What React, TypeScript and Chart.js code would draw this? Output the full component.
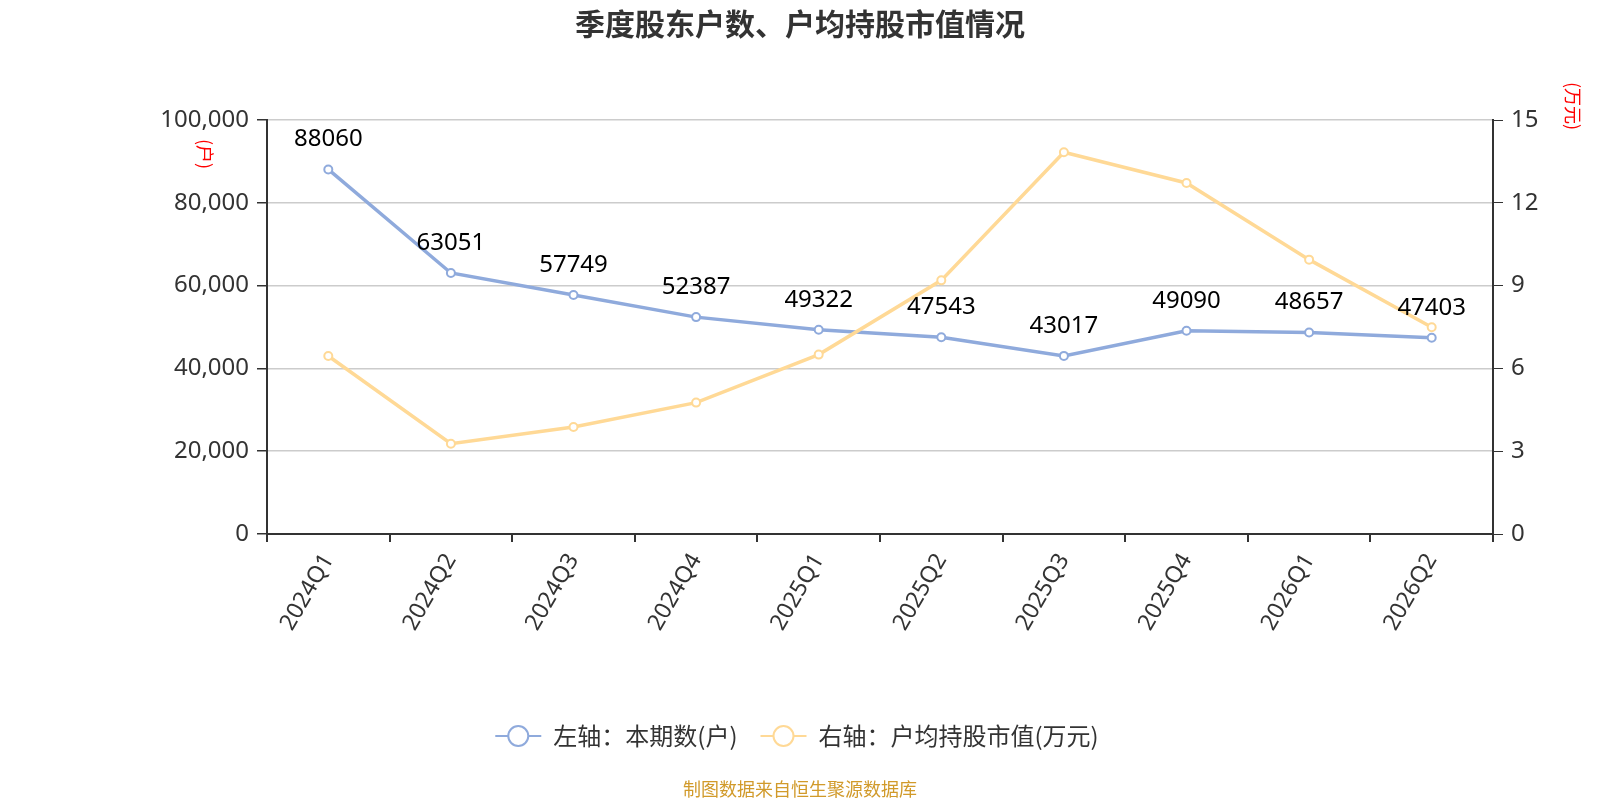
import { useEffect, useRef } from "react"
import { Chart, registerables } from "chart.js"

Chart.register(...registerables)

const FONT = '"Noto Sans CJK SC", "Noto Sans", sans-serif'
const NUM_FONT = '"Noto Sans", "Noto Sans CJK SC", sans-serif'

// quarters on the x axis
const quarters = ["2024Q1", "2024Q2", "2024Q3", "2024Q4", "2025Q1", "2025Q2", "2025Q3", "2025Q4", "2026Q1", "2026Q2"]
// left axis: number of holders (户)
const holders = [88060, 63051, 57749, 52387, 49322, 47543, 43017, 49090, 48657, 47403]
// right axis: average market value per holder (万元)
const avgValue = [6.45, 3.27, 3.88, 4.76, 6.5, 9.19, 13.83, 12.72, 9.94, 7.49]

const leftMax = 100000
const leftStep = 20000
const rightMax = 15
const rightStep = 3

const blue = "#8FAADC"
const yellow = "#FFD996"

const titleText = "季度股东户数、户均持股市值情况"
const leftUnit = "(户)"
const rightUnit = "(万元)"
const legendLabels = ["左轴：本期数(户)", "右轴：户均持股市值(万元)"]
const sourceText = "制图数据来自恒生聚源数据库"

// extra text: title, unit labels, value labels, legend, source
const decorPlugin = {
  id: "decor",
  afterDatasetsDraw(chart: Chart) {
    const ctx = chart.ctx
    ctx.save()

    // value labels above the blue line
    const meta = chart.getDatasetMeta(1)
    ctx.font = `24px ${NUM_FONT}`
    ctx.fillStyle = "#000"
    ctx.textAlign = "center"
    ctx.textBaseline = "middle"
    meta.data.forEach((pt, i) => {
      ctx.fillText(String(holders[i]), pt.x, pt.y - 30)
    })

    // title
    ctx.font = `bold 30px ${FONT}`
    ctx.fillStyle = "#333"
    ctx.fillText(titleText, 800, 24)

    // unit labels, rotated
    ctx.font = `18px ${FONT}`
    ctx.fillStyle = "#f00"
    const drawRot = (t: string, x: number, y: number) => {
      ctx.save()
      ctx.translate(x, y)
      ctx.rotate(Math.PI / 2)
      ctx.fillText(t, 0, 0)
      ctx.restore()
    }
    drawRot(leftUnit, 205, 154)
    drawRot(rightUnit, 1573, 106)

    // legend
    ctx.font = `24px ${FONT}`
    const colors = [blue, yellow]
    const widths = legendLabels.map((l) => ctx.measureText(l).width)
    const gap = 23
    const itemW = widths.map((w) => 46 + 12 + w)
    const total = itemW[0] + itemW[1] + gap
    let x = 797 - total / 2
    const ly = 736
    ctx.textAlign = "left"
    legendLabels.forEach((l, i) => {
      const cx = x + 23
      ctx.strokeStyle = colors[i]
      ctx.lineWidth = 2
      ctx.beginPath()
      ctx.moveTo(x, ly)
      ctx.lineTo(x + 46, ly)
      ctx.stroke()
      ctx.beginPath()
      ctx.arc(cx, ly, 10, 0, Math.PI * 2)
      ctx.fillStyle = "#fff"
      ctx.fill()
      ctx.stroke()
      ctx.fillStyle = "#333"
      ctx.fillText(l, x + 58, ly)
      x += itemW[i] + gap
    })

    // source
    ctx.font = `18px ${FONT}`
    ctx.fillStyle = "#D19A2A"
    ctx.textAlign = "center"
    ctx.fillText(sourceText, 800, 789)

    ctx.restore()
  },
}

export default function App() {
  const chartRef = useRef<HTMLCanvasElement>(null)
  const chartInstance = useRef<Chart | null>(null)

  useEffect(() => {
    if (!chartRef.current) return
    if (chartInstance.current) chartInstance.current.destroy()

    const ctx = chartRef.current.getContext("2d")
    if (!ctx) return

    const tickFont = { family: NUM_FONT, size: 24 }

    chartInstance.current = new Chart(ctx, {
      type: "line",
      data: {
        labels: quarters,
        datasets: [
          {
            label: legendLabels[1],
            data: avgValue,
            yAxisID: "y1",
            borderColor: yellow,
            backgroundColor: "#fff",
            pointBorderColor: yellow,
            pointBackgroundColor: "#fff",
            borderWidth: 3.5,
            pointRadius: 4,
            pointBorderWidth: 2,
            order: 0,
          },
          {
            label: legendLabels[0],
            data: holders,
            yAxisID: "y",
            borderColor: blue,
            backgroundColor: "#fff",
            pointBorderColor: blue,
            pointBackgroundColor: "#fff",
            borderWidth: 3.5,
            pointRadius: 4,
            pointBorderWidth: 2,
            order: 1,
          },
        ],
      },
      options: {
        responsive: false,
        animation: false,
        layout: {
          padding: { top: 120, bottom: 166, left: 0, right: 27 },
        },
        plugins: {
          legend: { display: false },
          title: { display: false },
          tooltip: { enabled: false },
        },
        scales: {
          x: {
            offset: true,
            grid: { offset: true, drawOnChartArea: false, tickColor: "#333", tickLength: 8, lineWidth: 2 },
            border: { color: "#333", width: 2 },
            ticks: { font: { family: NUM_FONT, size: 23 }, color: "#333", maxRotation: 60, minRotation: 60, padding: 7 },
            afterFit: (axis) => {
              axis.height = 100
            },
          },
          y: {
            position: "left",
            min: 0,
            max: leftMax,
            ticks: { stepSize: leftStep, font: tickFont, color: "#333", padding: 8 },
            grid: { color: "#ccc", lineWidth: 1.5, tickColor: "#333", tickLength: 10 },
            border: { color: "#333", width: 2 },
            afterFit: (axis) => {
              axis.width = 267
            },
          },
          y1: {
            position: "right",
            min: 0,
            max: rightMax,
            ticks: { stepSize: rightStep, font: tickFont, color: "#333", padding: 8 },
            grid: { drawOnChartArea: false, tickColor: "#333", tickLength: 10 },
            border: { color: "#333", width: 2 },
            afterFit: (axis) => {
              axis.width = 80
            },
          },
        },
      },
      plugins: [decorPlugin],
    })

    return () => {
      if (chartInstance.current) {
        chartInstance.current.destroy()
        chartInstance.current = null
      }
    }
  }, [])

  return (
    <div style={{ position: "fixed", left: 0, top: 0, width: 1600, height: 800, background: "#fff" }}>
      <canvas ref={chartRef} width={1600} height={800} />
    </div>
  )
}
